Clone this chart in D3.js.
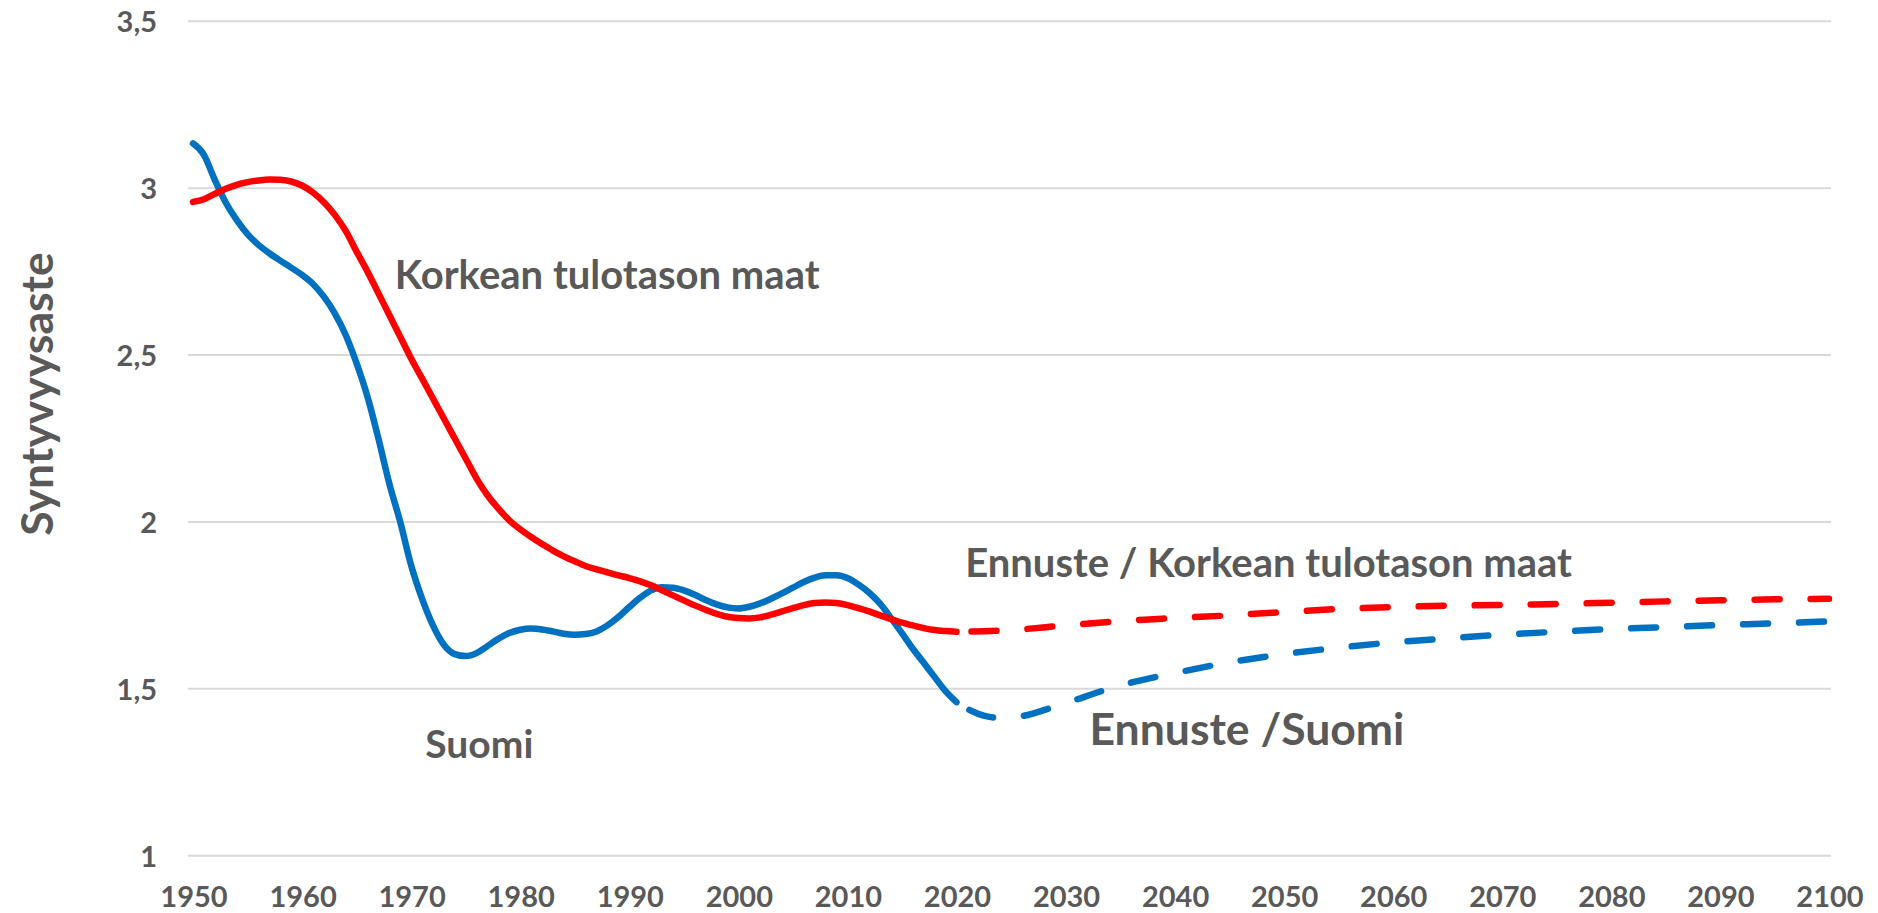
<!DOCTYPE html>
<html>
<head>
<meta charset="utf-8">
<script src="https://cdn.jsdelivr.net/npm/d3@7"></script>
<style>
    body { margin: 0; background: #ffffff; }
    svg { display: block; font-family: Lato, "Open Sans", sans-serif; font-weight: bold; }
    .grid line { stroke: #d9d9d9; stroke-width: 2; }
    .tickLabel { fill: #595959; font-size: 29px; }
    .note { fill: #595959; }
    .series { fill: none; stroke-width: 6.5; stroke-linecap: round; stroke-linejoin: round; }
</style>
</head>
<body>
<svg></svg>
<script>
// Suomi, toteutunut (1950-2020)
var suomiYears = d3.range(1950, 2021);
var suomiValues = [
    3.134, 3.10, 3.025, 2.957, 2.905, 2.862, 2.83, 2.805, 2.783, 2.762,
    2.74, 2.713, 2.675, 2.625, 2.56, 2.475, 2.375, 2.25, 2.115, 2.0,
    1.87, 1.77, 1.69, 1.632, 1.604, 1.598, 1.607, 1.628, 1.65, 1.667,
    1.677, 1.681, 1.678, 1.672, 1.665, 1.662, 1.664, 1.672, 1.69, 1.715,
    1.745, 1.773, 1.795, 1.804, 1.803, 1.795, 1.782, 1.766, 1.753, 1.744,
    1.741, 1.746, 1.756, 1.77, 1.786, 1.803, 1.82, 1.833, 1.84, 1.84,
    1.832, 1.813, 1.788, 1.755, 1.712, 1.667, 1.62, 1.578, 1.535, 1.493,
    1.46
];

// Korkean tulotason maat, toteutunut (1950-2020)
var highYears = d3.range(1950, 2021);
var highValues = [
    2.959, 2.967, 2.983, 2.998, 3.01, 3.018, 3.023, 3.026, 3.025, 3.02,
    3.008, 2.987, 2.958, 2.92, 2.872, 2.81, 2.75, 2.685, 2.62, 2.555,
    2.49, 2.43, 2.37, 2.31, 2.25, 2.19, 2.13, 2.08, 2.04, 2.005,
    1.978, 1.955, 1.934, 1.914, 1.897, 1.882, 1.868, 1.858, 1.849, 1.84,
    1.832, 1.822, 1.81, 1.795, 1.78, 1.765, 1.75, 1.737, 1.725, 1.716,
    1.712, 1.711, 1.714, 1.722, 1.732, 1.742, 1.751, 1.757, 1.759, 1.757,
    1.751, 1.742, 1.732, 1.72, 1.709, 1.698, 1.69, 1.682, 1.676, 1.673,
    1.671
];

// Ennuste / Suomi
var suomiForecastYears = [2020, 2021, 2022, 2023, 2024, 2025, 2026, 2027, 2028, 2030,
    2035, 2040, 2045, 2050, 2055, 2060, 2065, 2070, 2075, 2080, 2085, 2090, 2095, 2100];
var suomiForecastValues = [1.46, 1.44, 1.425, 1.416, 1.413, 1.414, 1.418, 1.426, 1.436, 1.457,
    1.51, 1.547, 1.579, 1.604, 1.623, 1.639, 1.651, 1.662, 1.671, 1.679, 1.685, 1.691, 1.696, 1.702];

// Ennuste / Korkean tulotason maat
var highForecastYears = [2020, 2025, 2030, 2035, 2040, 2045, 2050, 2055, 2060,
    2065, 2070, 2075, 2080, 2085, 2090, 2095, 2100];
var highForecastValues = [1.671, 1.676, 1.69, 1.703, 1.712, 1.72, 1.73, 1.739, 1.745,
    1.749, 1.751, 1.754, 1.758, 1.762, 1.765, 1.768, 1.77];

var xTicks = d3.range(1950, 2101, 10);
var yTicks = [1, 1.5, 2, 2.5, 3, 3.5];

var labels = [
    { text: "Korkean tulotason maat", year: 1968.5, value: 2.698, size: 40 },
    { text: "Suomi", year: 1971.3, value: 1.293, size: 39 },
    { text: "Ennuste / Korkean tulotason maat", year: 2020.8, value: 1.835, size: 40 },
    { text: "Ennuste /Suomi", year: 2032.2, value: 1.332, size: 44.5 }
];

function zipSeries(years, values) {
    var data = [];
    for (var i = 0; i < years.length; i++) {
        data.push({ year: years[i], v: values[i] });
    }
    return data;
}

///////////////////////////////////////////////////////
// canvas
var svgWidth = 1878,
    svgHeight = 913;
var svg = d3.select("svg")
    .attr("width", svgWidth)
    .attr("height", svgHeight);

svg.append("rect")
    .attr("width", svgWidth)
    .attr("height", svgHeight)
    .attr("fill", "#ffffff");

var x = d3.scaleLinear().domain([1950, 2100]).range([193, 1829]);
var y = d3.scaleLinear().domain([1, 3.5]).range([855.7, 21.3]);

// gridlines
svg.append("g")
    .attr("class", "grid")
    .selectAll("line")
    .data(yTicks)
    .enter()
    .append("line")
    .attr("x1", 188)
    .attr("x2", 1831)
    .attr("y1", d => y(d))
    .attr("y2", d => y(d));

// y tick labels
svg.append("g")
    .selectAll("text")
    .data(yTicks)
    .enter()
    .append("text")
    .attr("class", "tickLabel")
    .attr("text-anchor", "end")
    .attr("x", 157)
    .attr("y", d => y(d) + 11)
    .text(d => d3.format("")(d).replace(".", ","));

// x tick labels
svg.append("g")
    .selectAll("text")
    .data(xTicks)
    .enter()
    .append("text")
    .attr("class", "tickLabel")
    .attr("text-anchor", "middle")
    .attr("x", d => x(d) + 1)
    .attr("y", 907)
    .text(d => d);

// axis title
svg.append("text")
    .attr("class", "note")
    .attr("text-anchor", "middle")
    .attr("transform", "translate(53,394) rotate(-90)")
    .style("font-size", "44.5px")
    .text("Syntyvyysaste");

// lines
var line = d3.line()
    .x(d => x(d.year))
    .y(d => y(d.v))
    .curve(d3.curveMonotoneX);

function drawSeries(data, color, dashed) {
    var p = svg.append("path")
        .datum(data)
        .attr("class", "series")
        .attr("stroke", color)
        .attr("d", line);
    if (dashed) {
        p.attr("stroke-dasharray", "25 31")
            .attr("stroke-dashoffset", 41);
    }
}

drawSeries(zipSeries(highForecastYears, highForecastValues), "#ff0000", true);
drawSeries(zipSeries(suomiForecastYears, suomiForecastValues), "#0070c0", true);
drawSeries(zipSeries(suomiYears, suomiValues), "#0070c0", false);
drawSeries(zipSeries(highYears, highValues), "#ff0000", false);

// series labels
svg.append("g")
    .selectAll("text")
    .data(labels)
    .enter()
    .append("text")
    .attr("class", "note")
    .attr("x", d => x(d.year))
    .attr("y", d => y(d.value))
    .style("font-size", d => d.size + "px")
    .text(d => d.text);
</script>
</body>
</html>
